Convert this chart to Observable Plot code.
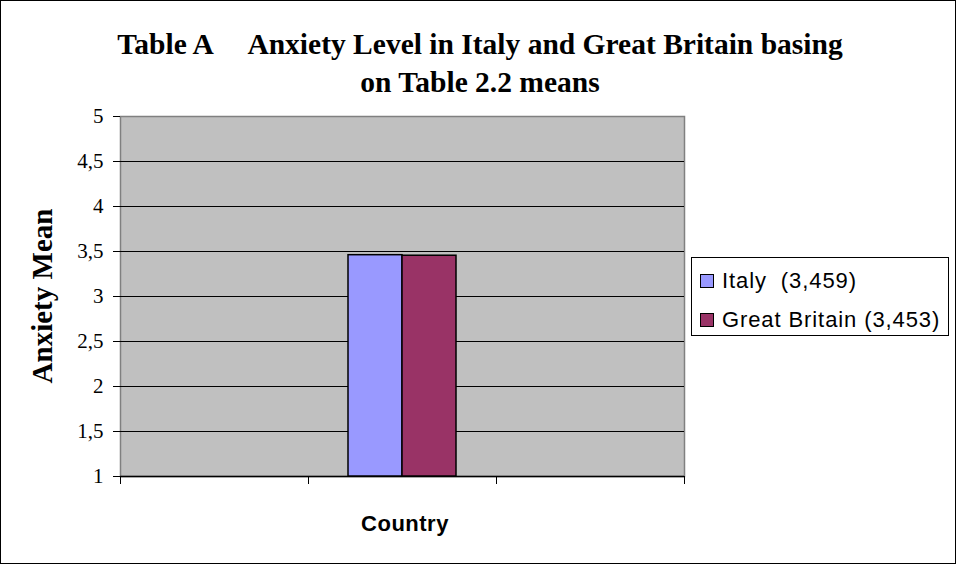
<!DOCTYPE html>
<html>
<head>
<meta charset="utf-8">
<script src="https://cdn.jsdelivr.net/npm/d3@7"></script>
<script src="https://cdn.jsdelivr.net/npm/@observablehq/plot@0.6"></script>
<style>
  html, body { margin: 0; padding: 0; background: #fff; }
  #wrap { position: relative; width: 956px; height: 564px; overflow: hidden; background: #fff; }
  #border { position: absolute; left: 0; top: 0; width: 954px; height: 562px; border: 1px solid #000; pointer-events: none; }
  #title { position: absolute; left: 0; width: 960px; top: 25px; text-align: center; font-family: "Liberation Serif", "Times New Roman", serif; font-weight: bold; font-size: 29.5px; line-height: 38px; white-space: pre; color: #000; }
  #ytitle { position: absolute; left: 42px; top: 296px; transform: translate(-50%, -50%) rotate(-90deg); font-family: "Liberation Serif", "Times New Roman", serif; font-weight: bold; font-size: 29px; white-space: nowrap; color: #000; }
  #xtitle { position: absolute; left: 405px; top: 524px; transform: translate(-50%, -50%); font-family: "Liberation Sans", Arial, sans-serif; font-weight: bold; font-size: 22px; letter-spacing: 0.5px; color: #000; }
  #legend { position: absolute; left: 691px; top: 257px; width: 256px; height: 77px; border: 1px solid #000; background: #fff; font-family: "Liberation Sans", Arial, sans-serif; font-size: 22px; letter-spacing: 0.9px; color: #000; }
  .row { position: absolute; left: 8px; height: 26px; display: flex; align-items: center; white-space: pre; }
  .sw { width: 12px; height: 12px; border: 1px solid #000; margin-right: 8px; }
  #plot { position: absolute; left: 0; top: 0; }
</style>
</head>
<body>
<div id="wrap">
  <div id="plot"></div>
  <div id="title">Table A     Anxiety Level in Italy and Great Britain basing
on Table 2.2 means</div>
  <div id="ytitle">Anxiety Mean</div>
  <div id="xtitle">Country</div>
  <div id="legend"></div>
  <div id="border"></div>
</div>
<script>
// ---- data ----
const categories = ["A", "B", "C"];          // category slots along the x axis (only B has values)
const series = ["Italy", "Great Britain"];
const seriesValues = [3.459, 3.453];
const seriesCategory = ["B", "B"];
const seriesLegend = ["Italy  (3,459)", "Great Britain (3,453)"];
const seriesColors = ["#9999FF", "#993366"];
const yTicks = [1, 1.5, 2, 2.5, 3, 3.5, 4, 4.5, 5];
const yTickLabels = ["1", "1,5", "2", "2,5", "3", "3,5", "4", "4,5", "5"];

// bar rows, plus empty rows so the empty category slots are still drawn
const data = series.map((s, i) => ({ series: s, value: seriesValues[i], cat: seriesCategory[i] }))
  .concat(categories.filter((c) => !seriesCategory.includes(c)).map((c) => ({ series: series[0], value: NaN, cat: c })));

const W = 956, H = 564;
const mL = 120, mR = 272, mT = 116, mB = 88;
const step = (W - mL - mR) / categories.length;
const yMin = yTicks[0];

const chart = Plot.plot({
  width: W,
  height: H,
  marginLeft: mL,
  marginRight: mR,
  marginTop: mT,
  marginBottom: mB,
  style: { background: "transparent", overflow: "visible" },
  fx: { domain: categories, padding: 0 },
  x: { domain: series, paddingInner: 0, paddingOuter: 0.71, axis: null },
  y: { domain: [yTicks[0], yTicks[yTicks.length - 1]] },
  color: { domain: series, range: seriesColors },
  marks: [
    Plot.frame({ fill: "#c0c0c0", stroke: "#808080", strokeWidth: 1.5, facet: "super" }),
    Plot.ruleY(yTicks.slice(0, -1), { stroke: "#000", strokeWidth: 1 }),
    Plot.ruleY([yMin], { stroke: "#000", strokeWidth: 1.5 }),
    Plot.barY(data, {
      fx: "cat", x: "series", y1: () => yMin, y2: "value",
      fill: "series", stroke: "#000", strokeWidth: 1.5
    }),
    Plot.axisY(yTicks, {
      tickFormat: (d) => yTickLabels[yTicks.indexOf(d)],
      tickSize: 7, tickPadding: 10, label: null,
      fontFamily: "Liberation Serif, Times New Roman, serif", fontSize: 21,
      stroke: "#000", color: "#000"
    }),
    Plot.axisFx({ anchor: "bottom", tickSize: 8, tickFormat: () => "", label: null, dx: -step / 2, stroke: "#000" }),
    Plot.axisFx({ anchor: "bottom", tickSize: 8, tickFormat: () => "", label: null, dx: step / 2, stroke: "#000" })
  ]
});
document.getElementById("plot").appendChild(chart);

// legend
const lg = document.getElementById("legend");
series.forEach((s, i) => {
  const row = document.createElement("div");
  row.className = "row";
  row.style.top = (i === 0 ? 10 : 49) + "px";
  const sw = document.createElement("div");
  sw.className = "sw";
  sw.style.background = seriesColors[i];
  const t = document.createElement("span");
  t.textContent = seriesLegend[i];
  row.appendChild(sw);
  row.appendChild(t);
  lg.appendChild(row);
});
</script>
</body>
</html>
